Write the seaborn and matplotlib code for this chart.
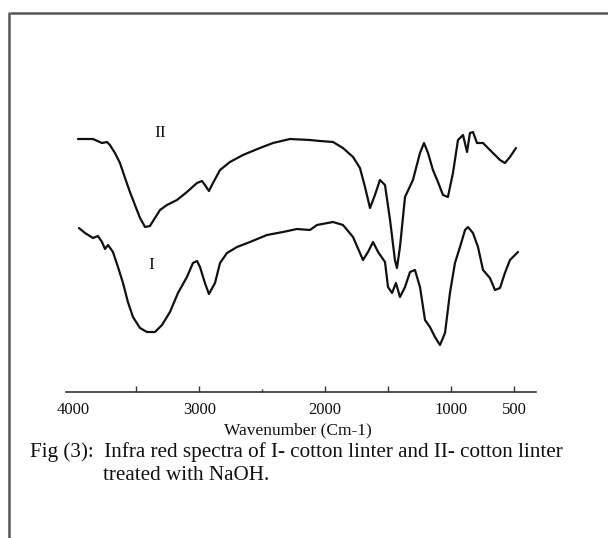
import numpy as np
import pandas as pd
import matplotlib
matplotlib.use("Agg")
import matplotlib.pyplot as plt
from matplotlib.lines import Line2D
import seaborn as sns

# ---- data (wavenumber cm-1, transmittance arbitrary units) ----
wn_II = [3965, 3846, 3774, 3734, 3711, 3671, 3631, 3591, 3552, 3512, 3472, 3432,
         3393, 3353, 3313, 3258, 3178, 3099, 3019, 2979, 2956, 2924, 2892, 2836,
         2757, 2654, 2519, 2415, 2280, 2121, 2042, 1938, 1859, 1779, 1724, 1684,
         1644, 1605, 1565, 1525, 1485, 1446, 1430, 1406, 1366, 1303, 1247, 1215,
         1183, 1144, 1104, 1064, 1025, 985, 945, 905, 873, 850, 826, 794, 746,
         691, 611, 572, 532, 484]
T_II = [261, 261, 257, 258, 255, 247, 237, 222, 208, 195, 182, 173,
        174, 182, 190, 195, 200, 208, 217, 219, 215, 209, 217, 230,
        238, 245, 252, 257, 261, 260, 259, 258, 252, 243, 232, 213,
        192, 205, 220, 215, 180, 140, 132, 153, 203, 220, 247, 257,
        247, 230, 218, 205, 203, 227, 260, 265, 248, 267, 268, 257, 257,
        250, 240, 237, 243, 252]

wn_I = [3957, 3909, 3846, 3806, 3774, 3750, 3726, 3687, 3647, 3607, 3568, 3528,
        3472, 3417, 3353, 3297, 3234, 3170, 3099, 3051, 3019, 2995, 2956, 2924,
        2876, 2836, 2781, 2701, 2598, 2463, 2336, 2225, 2121, 2066, 1938, 1859,
        1779, 1700, 1660, 1620, 1580, 1525, 1501, 1469, 1438, 1406, 1366, 1326,
        1287, 1247, 1207, 1168, 1128, 1088, 1048, 1009, 969, 929, 889, 866, 826,
        786, 746, 691, 651, 611, 572, 532, 492, 468]
T_I = [172, 167, 162, 164, 158, 151, 155, 148, 133, 117, 98, 83,
       72, 68, 68, 75, 88, 107, 123, 137, 139, 133, 117, 106,
       117, 137, 147, 153, 158, 165, 168, 171, 170, 175, 178, 175,
       163, 140, 148, 158, 148, 138, 113, 107, 117, 103, 113, 128,
       130, 113, 80, 73, 63, 55, 67, 107, 137, 153, 170, 173, 167,
       153, 130, 122, 110, 112, 127, 140, 145, 148]

tick_values = [4000, 3500, 3000, 2500, 2000, 1500, 1000, 500]
tick_labels = ["4000", "", "3000", "", "2000", "", "1000", "500"]

df = pd.concat([
    pd.DataFrame({"wn": wn_II, "T": T_II, "sample": "II"}),
    pd.DataFrame({"wn": wn_I, "T": T_I, "sample": "I"}),
])

sns.set_theme(style="white")
plt.rcParams["font.family"] = ["Liberation Serif", "DejaVu Serif"]

W, H = 608, 538
fig = plt.figure(figsize=(W / 100, H / 100), dpi=100)
ax = fig.add_axes([66 / W, 1 - 392 / H, (536 - 66) / W, (392 - 120) / H])

for name, sub in df.groupby("sample", sort=False):
    sns.lineplot(data=sub, x="wn", y="T", ax=ax, sort=False, estimator=None,
                 color="#111111", linewidth=1.6, legend=False)

ax.set_xlim(4060, 325)
ax.set_ylim(8, 280)
for s in ["top", "left", "right"]:
    ax.spines[s].set_visible(False)
ax.spines["bottom"].set_color("#333333")
ax.spines["bottom"].set_linewidth(1.2)
ax.set_yticks([])
ax.set_xticks(tick_values)
ax.set_xticklabels(tick_labels)
ax.tick_params(axis="x", direction="in", length=4, width=1, color="#333333",
               pad=7, labelsize=12, labelcolor="#111111", bottom=True)
ticks = ax.xaxis.get_major_ticks()
ticks[0].tick1line.set_visible(False)
ticks[3].tick1line.set_markersize(2)
ax.set_xlabel("")
ax.set_ylabel("")

ax.text(3313, 400 - 133, "II", ha="center", va="center", fontsize=12.5, color="#111111")
ax.text(3385, 400 - 265, "I", ha="center", va="center", fontsize=12.5, color="#111111")

fig.text(297.5 / W, 1 - 430 / H, "Wavenumber (Cm-1)", ha="center", va="center",
         fontsize=12.5, color="#111111")
fig.text(30 / W, 1 - 452 / H,
         "Fig (3):  Infra red spectra of I- cotton linter and II- cotton linter",
         ha="left", va="center", fontsize=15.2, color="#111111")
fig.text(103 / W, 1 - 476 / H, "treated with NaOH.", ha="left", va="center",
         fontsize=15.2, color="#111111")

# frame lines of the original figure box
fig.add_artist(Line2D([11 / W, 1.0], [1 - 13 / H, 1 - 13 / H], transform=fig.transFigure,
                      color="#555555", linewidth=1.8))
fig.add_artist(Line2D([9 / W, 9 / W], [0, 1 - 13 / H], transform=fig.transFigure,
                      color="#555555", linewidth=1.8))

fig.savefig("out.png", dpi=100)
